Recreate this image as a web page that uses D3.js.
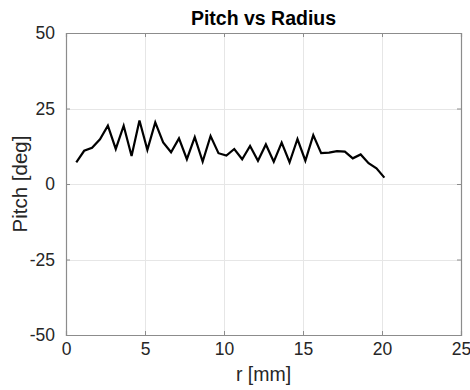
<!DOCTYPE html>
<html>
<head>
<meta charset="utf-8">
<script src="https://cdn.jsdelivr.net/npm/d3@7"></script>
<style>
  html, body { margin: 0; padding: 0; background: #fff; }
  svg { display: block; font-family: "Liberation Sans", Arial, Helvetica, sans-serif; }
</style>
</head>
<body>
<svg id="chart" width="470" height="390"></svg>
<script>
// Radius sample positions [mm]
const radius = [0.65, 1.15, 1.65, 2.15, 2.65, 3.15, 3.65, 4.15, 4.65, 5.15,
                5.65, 6.15, 6.65, 7.15, 7.65, 8.15, 8.65, 9.15, 9.65, 10.15,
                10.65, 11.15, 11.65, 12.15, 12.65, 13.15, 13.65, 14.15, 14.65, 15.15,
                15.65, 16.15, 16.65, 17.15, 17.65, 18.15, 18.65, 19.15, 19.65, 20.15];
// Pitch angle at each radius [deg]
const pitch = [7.2, 11.0, 12.0, 14.8, 19.3, 11.6, 19.3, 9.3, 21.0, 11.3,
               20.4, 13.8, 10.5, 15.1, 8.2, 15.5, 7.4, 15.9, 10.2, 9.4,
               11.6, 8.2, 12.6, 7.7, 13.1, 7.4, 13.7, 7.2, 14.9, 7.7,
               16.2, 10.2, 10.4, 10.9, 10.7, 8.5, 9.8, 6.9, 5.2, 2.1];
const xTicks = [0, 5, 10, 15, 20, 25];
const yTicks = [-50, -25, 0, 25, 50];

const svg = d3.select("#chart");
const plotL = 66, plotR = 461, plotT = 33, plotB = 335;

const x = d3.scaleLinear().domain([0, 25]).range([plotL, plotR]);
const y = d3.scaleLinear().domain([-50, 50]).range([plotB, plotT]);

// grid
const grid = svg.append("g").attr("stroke", "#e6e6e6").attr("stroke-width", 1);
grid.selectAll(".gx").data(xTicks.slice(1, -1)).join("line")
  .attr("x1", d => Math.round(x(d)) + 0.5).attr("x2", d => Math.round(x(d)) + 0.5)
  .attr("y1", plotT).attr("y2", plotB);
grid.selectAll(".gy").data(yTicks.slice(1, -1)).join("line")
  .attr("y1", d => Math.round(y(d)) + 0.5).attr("y2", d => Math.round(y(d)) + 0.5)
  .attr("x1", plotL).attr("x2", plotR);

// axes with inward ticks
const axisColor = "#8c8c8c";
const tickLen = 4;
const fmt = d => (d < 0 ? "-" + Math.abs(d) : String(d));

const xAxis = svg.append("g").attr("transform", `translate(0,${plotB})`)
  .call(d3.axisBottom(x).tickValues(xTicks).tickSize(-tickLen).tickPadding(14).tickFormat(fmt));
const xTop = svg.append("g").attr("transform", `translate(0,${plotT})`)
  .call(d3.axisTop(x).tickValues(xTicks).tickSize(-tickLen).tickFormat(""));
const yAxis = svg.append("g").attr("transform", `translate(${plotL},0)`)
  .call(d3.axisLeft(y).tickValues(yTicks).tickSize(-tickLen).tickPadding(11).tickFormat(fmt));
const yRight = svg.append("g").attr("transform", `translate(${plotR},0)`)
  .call(d3.axisRight(y).tickValues(yTicks).tickSize(-tickLen).tickFormat(""));

[xAxis, xTop, yAxis, yRight].forEach(g => {
  g.select(".domain").attr("stroke", axisColor).attr("stroke-width", 1.2);
  g.selectAll(".tick line").attr("stroke", axisColor);
  g.selectAll(".tick text").attr("fill", "#262626").attr("font-size", 17.5)
    .attr("font-family", "\"Liberation Sans\", Arial, Helvetica, sans-serif");
});
xAxis.selectAll(".tick text").attr("dy", "0.35em");

// data line
const line = d3.line().x((d, i) => x(radius[i])).y(d => y(d));
svg.append("path").datum(pitch)
  .attr("d", line)
  .attr("fill", "none")
  .attr("stroke", "#000")
  .attr("stroke-width", 2.2)
  .attr("stroke-linejoin", "miter");

// title and labels
svg.append("text").attr("x", (plotL + plotR) / 2).attr("y", 25)
  .attr("text-anchor", "middle").attr("font-weight", "bold").attr("font-size", 19.5)
  .attr("fill", "#000").text("Pitch vs Radius");
svg.append("text").attr("x", (plotL + plotR) / 2).attr("y", 381)
  .attr("text-anchor", "middle").attr("font-size", 19.5)
  .attr("fill", "#262626").text("r [mm]");
svg.append("text").attr("transform", `translate(27,${(plotT + plotB) / 2}) rotate(-90)`)
  .attr("text-anchor", "middle").attr("font-size", 20.5)
  .attr("fill", "#262626").text("Pitch [deg]");
</script>
</body>
</html>
